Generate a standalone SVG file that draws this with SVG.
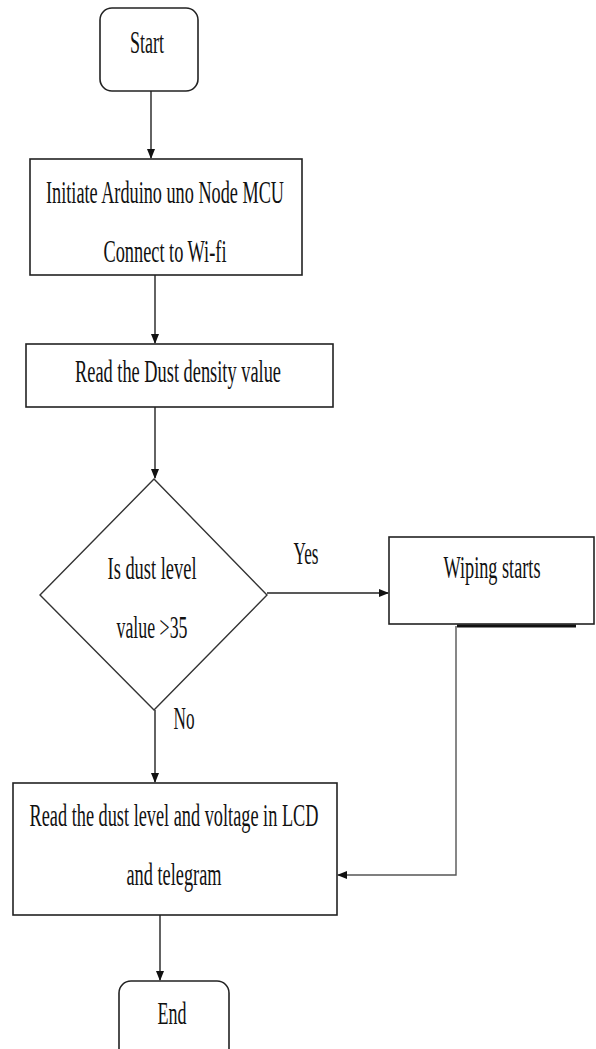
<svg xmlns="http://www.w3.org/2000/svg" width="596" height="1049" viewBox="0 0 596 1049">
<style>
.box{fill:#fff;stroke:#222;stroke-width:1.6}
.dia{fill:#fff;stroke:#333;stroke-width:1.4}
.t{font-family:"Liberation Serif","Times New Roman","DejaVu Serif",serif;font-size:31px;fill:#111;text-anchor:middle}
.c{fill:none;stroke:#222;stroke-width:1.4}
</style>
<defs>
<marker id="ah" markerWidth="10" markerHeight="8" refX="9" refY="4" orient="auto" markerUnits="userSpaceOnUse">
<path d="M0,0 L10,4 L0,8 Z" fill="#111"/>
</marker>
</defs>
<rect width="596" height="1049" fill="#fff"/>
<g id="connectors">
<line class="c" x1="151" y1="91" x2="151" y2="158" marker-end="url(#ah)"/>
<line class="c" x1="155" y1="275" x2="155" y2="343" marker-end="url(#ah)"/>
<line class="c" x1="155" y1="407" x2="155" y2="478" marker-end="url(#ah)"/>
<line class="c" x1="267" y1="593" x2="388" y2="593" marker-end="url(#ah)"/>
<line class="c" x1="155" y1="710" x2="155" y2="782" marker-end="url(#ah)"/>
<polyline fill="none" stroke="#555" stroke-width="1.4" points="456,626 456,875 338,875" marker-end="url(#ah)"/>
<line class="c" x1="160" y1="915" x2="160" y2="980" marker-end="url(#ah)"/>
<text class="t" x="306" y="564" textLength="25" lengthAdjust="spacingAndGlyphs">Yes</text>
<text class="t" x="184" y="729" textLength="21" lengthAdjust="spacingAndGlyphs">No</text>
</g>
<g id="start">
<rect class="box" x="100" y="8" width="98" height="83" rx="12"/>
<text class="t" x="147" y="53" textLength="34" lengthAdjust="spacingAndGlyphs">Start</text>
</g>
<g id="init">
<rect class="box" x="30" y="159" width="272" height="116"/>
<text class="t" x="165" y="203" textLength="238" lengthAdjust="spacingAndGlyphs">Initiate Arduino uno Node MCU</text>
<text class="t" x="165" y="262" textLength="123" lengthAdjust="spacingAndGlyphs">Connect to Wi-fi</text>
</g>
<g id="read">
<rect class="box" x="26" y="344" width="307" height="63"/>
<text class="t" x="178" y="382" textLength="206" lengthAdjust="spacingAndGlyphs">Read the Dust density value</text>
</g>
<g id="decision">
<polygon class="dia" points="154,479 267,595 154,710 40,595"/>
<text class="t" x="152" y="579" textLength="89" lengthAdjust="spacingAndGlyphs">Is dust level</text>
<text class="t" x="152" y="638" textLength="71" lengthAdjust="spacingAndGlyphs">value &gt;35</text>
</g>
<g id="wiping">
<rect class="box" x="389" y="537" width="205" height="87"/>
<line x1="457" y1="626" x2="576" y2="626" stroke="#111" stroke-width="3"/>
<text class="t" x="492" y="578" textLength="97" lengthAdjust="spacingAndGlyphs">Wiping starts</text>
</g>
<g id="display">
<rect class="box" x="13" y="783" width="324" height="132"/>
<text class="t" x="174" y="826" textLength="289" lengthAdjust="spacingAndGlyphs">Read the dust level and voltage in LCD</text>
<text class="t" x="174" y="885" textLength="95" lengthAdjust="spacingAndGlyphs">and telegram</text>
</g>
<g id="end">
<rect class="box" x="119" y="981" width="110" height="80" rx="12"/>
<text class="t" x="172" y="1024" textLength="29" lengthAdjust="spacingAndGlyphs">End</text>
</g>
</svg>
